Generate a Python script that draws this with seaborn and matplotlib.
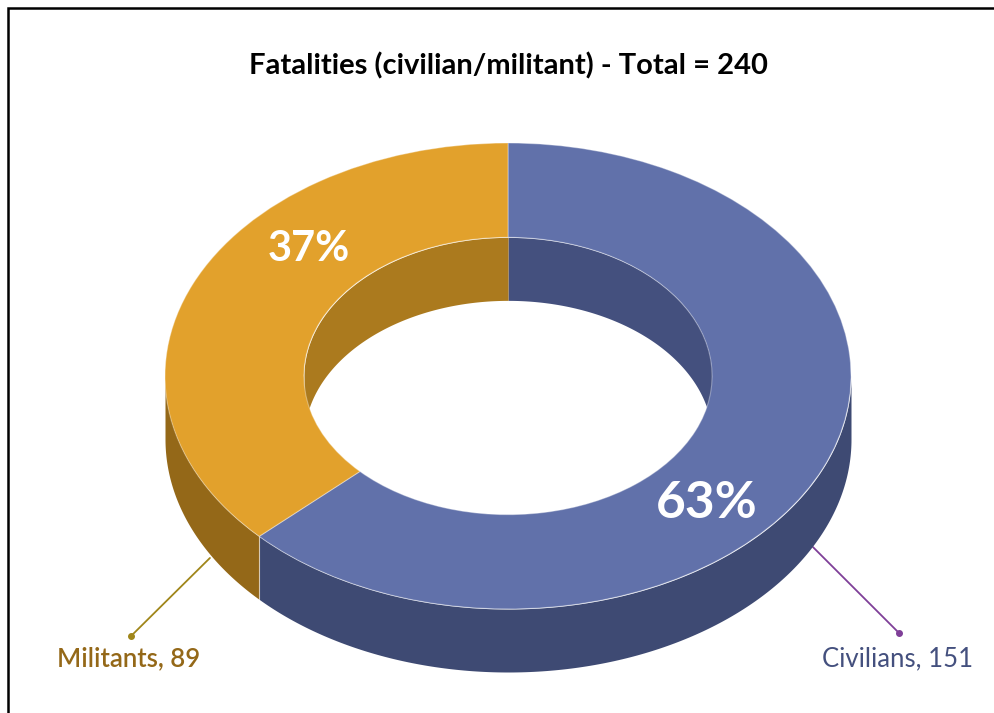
import numpy as np
import matplotlib
matplotlib.use("Agg")
import matplotlib.pyplot as plt
import seaborn as sns
from matplotlib.patches import Rectangle

# ---- data ----
categories = ["Civilians", "Militants"]
values = [151, 89]
top_colors = ["#6171AA", "#E2A12C"]
side_colors = ["#3E4A73", "#946818"]
inner_colors = ["#44507E", "#AB7A1E"]
label_colors = ["#44507E", "#946818"]
leader_colors = ["#7F3F98", "#A0861A"]
title = "Fatalities (civilian/militant) - Total = 240"

sns.set_theme(style="white")
plt.rcParams["font.family"] = ["Lato", "DejaVu Sans"]

W, H = 994, 713
fig = plt.figure(figsize=(W / 100, H / 100), dpi=100)
ax = fig.add_axes([0, 0, 1, 1])

# geometry (layout)
cx_px, cy_px = 508, 376          # centre of top ellipse (px, from top)
rx_px, ry_px = 343, 233          # outer radii in px
inner_r = 0.595                  # hole radius relative to outer
depth = 63 / ry_px               # wall thickness in y data units

total = sum(values)
fracs = [v / total for v in values]

# top face: donut drawn by matplotlib's pie
wedges, _ = ax.pie(values, colors=top_colors, startangle=90, counterclock=False,
                   radius=1.0,
                   wedgeprops=dict(width=1 - inner_r, edgecolor=(1, 1, 1, 0.35),
                                   linewidth=0.8, zorder=3))

# angular spans (parametric degrees, counterclockwise)
spans = []
start = 90.0
for f in fracs:
    end = start - 360 * f
    spans.append((end, start))
    start = end


def clip_range(a0, a1, lo, hi):
    """intersection of [a0,a1] (mod 360) with [lo,hi]"""
    out = []
    for k in (-360, 0, 360):
        s, e = max(a0 + k, lo), min(a1 + k, hi)
        if e > s:
            out.append((s, e))
    return out


# outer front wall (angles 180..360) and inner back wall (angles 0..180)
for i, (a0, a1) in enumerate(spans):
    for s, e in clip_range(a0, a1, 180, 360):
        t = np.radians(np.linspace(s, e, 200))
        x = np.cos(t)
        y = np.sin(t)
        ax.fill_between(x, y, y - depth, color=side_colors[i], lw=0, zorder=2)
        for a in (s, e):
            if 180 < a < 360:
                ar = np.radians(a)
                ax.plot([np.cos(ar)] * 2, [np.sin(ar), np.sin(ar) - depth],
                        color=(1, 1, 1, 0.35), lw=0.8, zorder=2.5)
    for s, e in clip_range(a0, a1, 0, 180):
        t = np.radians(np.linspace(s, e, 200))
        x = inner_r * np.cos(t)
        y = inner_r * np.sin(t)
        ax.fill_between(x, y, y - depth, color=inner_colors[i], lw=0, zorder=2)

# percentage labels inside the ring
pct_sizes = [37, 30]
for i, (a0, a1) in enumerate(spans):
    mid = np.radians((a0 + a1) / 2 - 20)
    rr = (1 + inner_r) / 2
    ax.text(rr * np.cos(mid), rr * np.sin(mid), f"{round(fracs[i] * 100)}%",
            ha="center", va="center", color="white", fontsize=pct_sizes[i],
            fontweight="bold", zorder=5)

# leader lines + category labels (layout positions in data units)
leader_start = [(0.889, -0.734), (-0.869, -0.781)]
leader_end = [(1.140, -1.103), (-1.099, -1.116)]
label_pos = [(1.135, -1.215), (-1.105, -1.215)]
label_weight = ["normal", "semibold"]
for i, cat in enumerate(categories):
    (x0, y0), (x1, y1) = leader_start[i], leader_end[i]
    ax.plot([x0, x1], [y0, y1], color=leader_colors[i], lw=1.3, zorder=1)
    ax.plot([x1], [y1], "o", color=leader_colors[i], ms=4, zorder=1)
    ax.text(label_pos[i][0], label_pos[i][1], f"{cat}, {values[i]}",
            ha="center", va="center", color=label_colors[i], fontsize=18.5,
            fontweight=label_weight[i], zorder=5)

ax.set_aspect("auto")
ax.set_xlim((0 - cx_px) / rx_px, (W - cx_px) / rx_px)
ax.set_ylim((cy_px - H) / ry_px, cy_px / ry_px)
ax.axis("off")

fig.text(508 / W, 1 - 66 / H, title, ha="center", va="center",
         fontsize=21, fontweight="bold", color="black")

fig.patches.append(Rectangle((8 / W, -0.1), 1.2, 1.1 - 8 / H, transform=fig.transFigure,
                             fill=False, edgecolor="black", lw=1.8))

fig.savefig("out.png", dpi=100, facecolor="white")
